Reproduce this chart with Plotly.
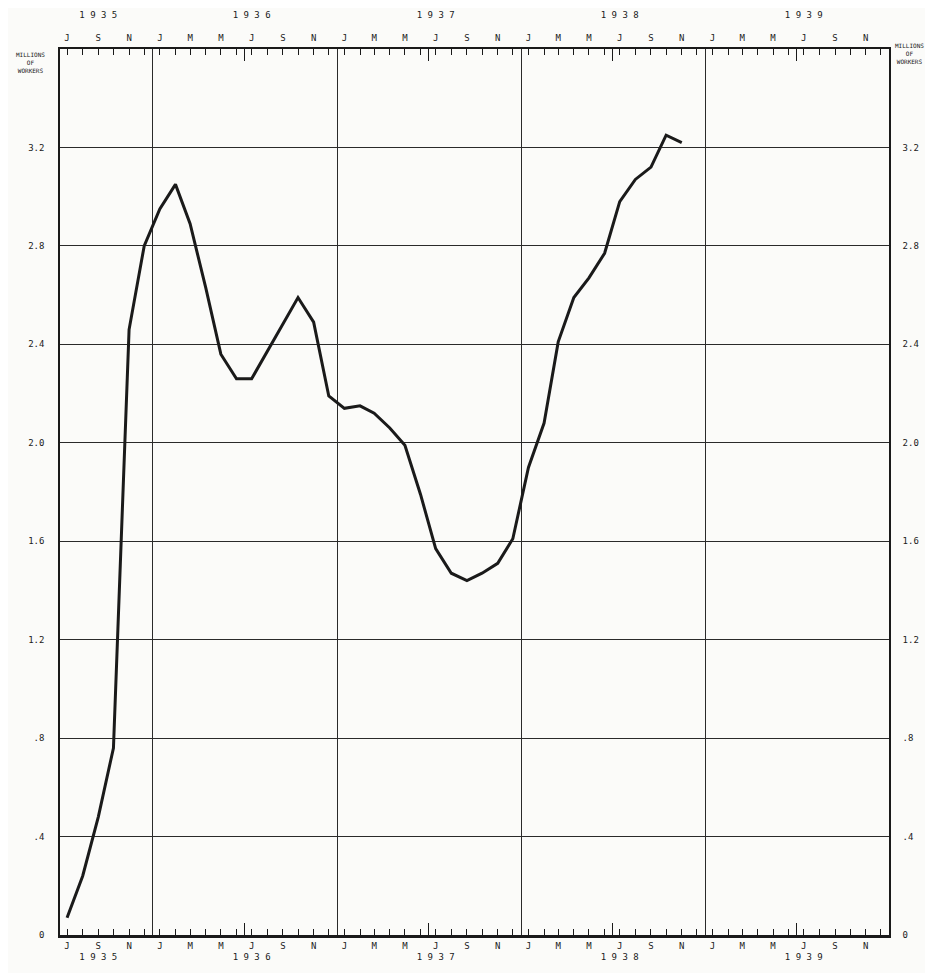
import plotly.graph_objects as go

# ---- data (millions of workers, mid-month) ----
months = [
    "1935-07-15", "1935-08-15", "1935-09-15", "1935-10-15", "1935-11-15", "1935-12-15",
    "1936-01-15", "1936-02-15", "1936-03-15", "1936-04-15", "1936-05-15", "1936-06-15",
    "1936-07-15", "1936-08-15", "1936-09-15", "1936-10-15", "1936-11-15", "1936-12-15",
    "1937-01-15", "1937-02-15", "1937-03-15", "1937-04-15", "1937-05-15", "1937-06-15",
    "1937-07-15", "1937-08-15", "1937-09-15", "1937-10-15", "1937-11-15", "1937-12-15",
    "1938-01-15", "1938-02-15", "1938-03-15", "1938-04-15", "1938-05-15", "1938-06-15",
    "1938-07-15", "1938-08-15", "1938-09-15", "1938-10-15", "1938-11-15",
]
workers = [
    0.07, 0.24, 0.48, 0.76, 2.46, 2.80,
    2.95, 3.05, 2.89, 2.63, 2.36, 2.26,
    2.26, 2.37, 2.48, 2.59, 2.49, 2.19,
    2.14, 2.15, 2.12, 2.06, 1.99, 1.79,
    1.57, 1.47, 1.44, 1.47, 1.51, 1.61,
    1.90, 2.08, 2.41, 2.59, 2.67, 2.77,
    2.98, 3.07, 3.12, 3.25, 3.22,
]

years = ["1935", "1936", "1937", "1938", "1939"]
month_letters = {1: "J", 3: "M", 5: "M", 7: "J", 9: "S", 11: "N"}

y_ticks = [0, 0.4, 0.8, 1.2, 1.6, 2.0, 2.4, 2.8, 3.2]
y_ticktext = ["0", ".4", ".8", "1.2", "1.6", "2.0", "2.4", "2.8", "3.2"]

x_range = ["1935-07-01", "1939-12-31"]

# ---- tick construction ----
def spaced(y):
    return " ".join(y)

label_vals, bottom_text, top_text = [], [], []
july_vals, jan_vals, minor_vals = [], [], []
for yr in years:
    start_m = 7 if yr == "1935" else 1
    for m in range(start_m, 13):
        d = f"{yr}-{m:02d}-15"
        minor_vals.append(d)
        if m in month_letters:
            letter = month_letters[m]
            year_here = (m == 7 and yr != "1935") or (m == 9 and yr == "1935")
            label_vals.append(d)
            if year_here:
                bottom_text.append(f"{letter}<br>{spaced(yr)}")
                top_text.append(f"{spaced(yr)}<br> <br>{letter}")
            else:
                bottom_text.append(letter)
                top_text.append(f" <br> <br>{letter}")
        if m == 7:
            july_vals.append(f"{yr}-07-01")
    if yr != "1935":
        jan_vals.append(f"{yr}-01-01")

FONT = "DejaVu Sans Mono"
INK = "#1a1a1a"

fig = go.Figure()
fig.add_trace(go.Scatter(x=months, y=workers, mode="lines",
                         line=dict(color=INK, width=3), xaxis="x", yaxis="y",
                         hoverinfo="skip", showlegend=False))
for xa, ya in [("x2", "y"), ("x3", "y"), ("x4", "y"), ("x5", "y"), ("x", "y2")]:
    fig.add_trace(go.Scatter(x=[None], y=[None], xaxis=xa, yaxis=ya,
                             showlegend=False, hoverinfo="skip"))

common_x = dict(type="date", range=x_range, showgrid=False, zeroline=False,
                fixedrange=True, automargin=False)

fig.update_layout(
    width=933, height=973,
    margin=dict(l=52, r=52, t=41, b=46),
    paper_bgcolor="#fbfbf9", plot_bgcolor="#fbfbf9",
    font=dict(family=FONT, size=9, color=INK),
    xaxis=dict(**common_x, side="bottom",
               tickmode="array", tickvals=label_vals, ticktext=bottom_text,
               ticks="inside", ticklen=6, tickwidth=1.2, tickcolor=INK,
               minor=dict(tickmode="array", tickvals=minor_vals, ticks="inside",
                          ticklen=6, tickwidth=1.2, tickcolor=INK),
               showline=True, linecolor=INK, linewidth=2.5,
               tickfont=dict(family=FONT, size=9, color=INK)),
    xaxis2=dict(**common_x, side="top", overlaying="x",
                tickmode="array", tickvals=label_vals, ticktext=top_text,
                ticks="inside", ticklen=6, tickwidth=1.2, tickcolor=INK,
                ticklabelstandoff=2,
                minor=dict(tickmode="array", tickvals=minor_vals, ticks="inside",
                           ticklen=6, tickwidth=1.2, tickcolor=INK),
                showline=True, linecolor=INK, linewidth=2,
                tickfont=dict(family=FONT, size=9, color=INK)),
    xaxis3=dict(type="date", range=x_range, overlaying="x", side="bottom",
                tickmode="array", tickvals=jan_vals, showticklabels=False,
                ticks="", showgrid=True, gridcolor="#2a2a2a", gridwidth=1.3,
                zeroline=False, showline=False),
    xaxis4=dict(type="date", range=x_range, overlaying="x", side="bottom",
                tickmode="array", tickvals=july_vals, showticklabels=False,
                ticks="inside", ticklen=12, tickwidth=1.2, tickcolor=INK,
                showgrid=False, zeroline=False, showline=False),
    xaxis5=dict(type="date", range=x_range, overlaying="x", side="top",
                tickmode="array", tickvals=july_vals, showticklabels=False,
                ticks="inside", ticklen=12, tickwidth=1.2, tickcolor=INK,
                showgrid=False, zeroline=False, showline=False),
    yaxis=dict(range=[0, 3.6], tickmode="array", tickvals=y_ticks,
               ticktext=y_ticktext, showgrid=True, gridcolor="#2a2a2a",
               gridwidth=1.2, zeroline=False, showline=True, linecolor=INK,
               linewidth=1.5, ticks="", ticklabelstandoff=12, fixedrange=True,
               tickfont=dict(family=FONT, size=9, color=INK)),
    yaxis2=dict(range=[0, 3.6], overlaying="y", side="right", tickmode="array",
                tickvals=y_ticks, ticktext=y_ticktext, showgrid=False,
                zeroline=False, showline=True, linecolor=INK, linewidth=1.5,
                ticks="", ticklabelstandoff=10, fixedrange=True,
                tickfont=dict(family=FONT, size=9, color=INK)),
    annotations=[
        dict(text="MILLIONS<br>OF<br>WORKERS", xref="paper", yref="paper",
             x=-0.035, y=0.985, showarrow=False, xanchor="center", yanchor="middle",
             font=dict(family=FONT, size=6, color=INK)),
        dict(text="MILLIONS<br>OF<br>WORKERS", xref="paper", yref="paper",
             x=1.0, y=0.995, showarrow=False, xanchor="left", yanchor="middle",
             xshift=4, font=dict(family=FONT, size=6, color=INK)),
    ],
)

fig.write_html("out.html")
